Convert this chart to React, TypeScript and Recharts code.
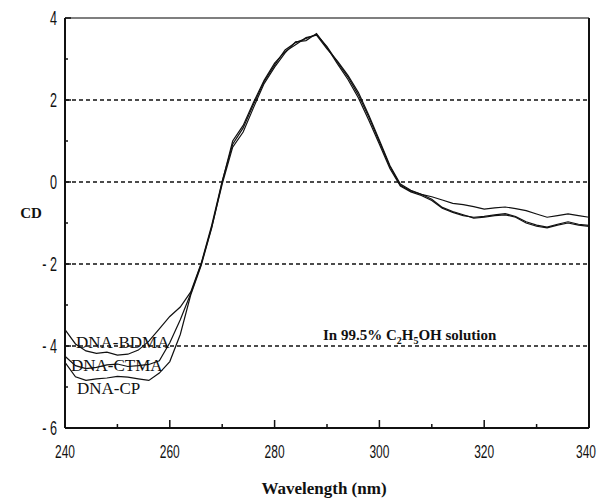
import React from 'react';
import { LineChart, Line, XAxis, YAxis, ReferenceLine } from 'recharts';

// wavelength (nm), 2 nm steps
const wavelengths = [
  240, 242, 244, 246, 248, 250, 252, 254, 256, 258, 260, 262, 264, 266, 268, 270, 272,
  274, 276, 278, 280, 282, 284, 286, 288, 290, 292, 294, 296, 298, 300, 302, 304, 306,
  308, 310, 312, 314, 316, 318, 320, 322, 324, 326, 328, 330, 332, 334, 336, 338, 340,
];

const bdma = [
  -3.6, -3.95, -4.12, -4.18, -4.15, -4.22, -4.2, -4.1, -3.88, -3.58, -3.28, -3.05, -2.68,
  -1.98, -1.05, 0.02, 0.92, 1.32, 1.9, 2.45, 2.85, 3.22, 3.4, 3.5, 3.6, 3.3, 2.92, 2.56,
  2.12, 1.58, 0.98, 0.38, -0.08, -0.22, -0.3, -0.36, -0.44, -0.52, -0.55, -0.6, -0.66,
  -0.63, -0.61, -0.65, -0.7, -0.78, -0.86, -0.82, -0.78, -0.82, -0.86,
];

const ctma = [
  -4.25, -4.48, -4.55, -4.52, -4.46, -4.44, -4.5, -4.48, -4.45, -4.36, -3.92, -3.36, -2.72,
  -2.0, -1.1, -0.05, 0.85, 1.22, 1.82, 2.4, 2.8, 3.15, 3.42, 3.45, 3.62, 3.28, 2.88, 2.5,
  2.05, 1.5, 0.92, 0.33, -0.1, -0.24, -0.33, -0.45, -0.64, -0.74, -0.82, -0.86, -0.84,
  -0.8, -0.77, -0.84, -0.97, -1.05, -1.1, -1.03, -0.97, -1.03, -1.06,
];

const cp = [
  -4.4, -4.75, -4.84, -4.8, -4.78, -4.74, -4.76, -4.8, -4.84, -4.66, -4.38, -3.72, -2.75,
  -2.03, -1.12, 0.0, 1.0, 1.38, 1.95, 2.48, 2.9, 3.18, 3.35, 3.52, 3.58, 3.25, 2.95, 2.6,
  2.18, 1.62, 1.02, 0.4, -0.05, -0.2, -0.3, -0.42, -0.62, -0.72, -0.8, -0.88, -0.86,
  -0.82, -0.8, -0.86, -1.0, -1.08, -1.12, -1.05, -1.0, -1.05, -1.08,
];

const xTicks = [240, 250, 260, 270, 280, 290, 300, 310, 320, 330, 340];
const xLabels = [240, 260, 280, 300, 320, 340];
const yTicks = [-6, -5, -4, -3, -2, -1, 0, 1, 2, 3, 4];
const yLabels = [-6, -4, -2, 0, 2, 4];
const gridValues = [2, 0, -2, -4];

const data = wavelengths.map((nm, i) => ({ nm, bdma: bdma[i], ctma: ctma[i], cp: cp[i] }));

const tickFont = "'Liberation Sans', Arial, sans-serif";
const serif = "'Liberation Serif', 'DejaVu Serif', serif";
// the original tick numbers are very condensed: squeeze them horizontally
const squeeze = 0.63;

const XTick = (props: any) => {
  const { x, y, payload } = props;
  const major = xLabels.includes(payload.value);
  // last label sits against the page edge: anchor it at its right end
  const last = payload.value === 340;
  return (
    <g>
      <line x1={x} y1={y} x2={x} y2={y - (major ? 8 : 4)} stroke="#111" strokeWidth={1.5} />
      {major && (
        <text transform={`translate(${last ? x + 7 : x},${y + 30}) scale(${squeeze},1)`}
          textAnchor={last ? 'end' : 'middle'} fontFamily={tickFont} fontSize={19} fill="#111">
          {payload.value}
        </text>
      )}
    </g>
  );
};

const YTick = (props: any) => {
  const { x, y, payload } = props;
  const major = yLabels.includes(payload.value);
  return (
    <g>
      <line x1={x} y1={y} x2={x + (major ? 6 : 3)} y2={y} stroke="#111" strokeWidth={1.5} />
      {major && (
        <text transform={`translate(${x - 8},${y + 7}) scale(${squeeze},1)`}
          textAnchor="end" fontFamily={tickFont} fontSize={20} fill="#111">
          {payload.value < 0 ? `- ${-payload.value}` : payload.value}
        </text>
      )}
    </g>
  );
};

const App = () => {
  return (
    <div style={{ position: 'absolute', left: 0, top: 0, width: 600, height: 498, background: '#fff' }}>
      <LineChart width={600} height={498} data={data}
        margin={{ top: 18, right: 11, bottom: 30, left: 0 }}>
        <XAxis dataKey="nm" type="number" domain={[240, 340]} ticks={xTicks} interval={0}
          tick={<XTick />} tickLine={false} tickSize={0} tickMargin={0} height={40}
          axisLine={{ stroke: '#111', strokeWidth: 2 }} />
        <YAxis type="number" domain={[-6, 4]} ticks={yTicks} interval={0}
          tick={<YTick />} tickLine={false} tickSize={0} tickMargin={0} width={65}
          axisLine={{ stroke: '#111', strokeWidth: 2 }} />
        {gridValues.map(v => (
          <ReferenceLine key={v} y={v} stroke="#111" strokeWidth={1.3} strokeDasharray="4 3" />
        ))}
        <ReferenceLine y={4} stroke="#555" strokeWidth={1.5} />
        <ReferenceLine x={340} stroke="#111" strokeWidth={2} />
        <Line type="linear" dataKey="bdma" stroke="#111" strokeWidth={1.2} dot={false} isAnimationActive={false} />
        <Line type="linear" dataKey="ctma" stroke="#111" strokeWidth={1.2} dot={false} isAnimationActive={false} />
        <Line type="linear" dataKey="cp" stroke="#111" strokeWidth={1.2} dot={false} isAnimationActive={false} />
      </LineChart>
      <svg width={600} height={498} style={{ position: 'absolute', left: 0, top: 0, pointerEvents: 'none' }}>
        <text x={31} y={218} textAnchor="middle" fontFamily={serif} fontSize={15} fontWeight={600} fill="#111">CD</text>
        <text x={324} y={494} textAnchor="middle" fontFamily={serif} fontSize={17} fontWeight={700} fill="#111">Wavelength (nm)</text>
        <text x={323} y={340} fontFamily={serif} fontSize={15} fontWeight={600} fill="#111">
          In 99.5% C<tspan fontSize={10} dy={4}>2</tspan><tspan dy={-4}>H</tspan>
          <tspan fontSize={10} dy={4}>5</tspan><tspan dy={-4}>OH solution</tspan>
        </text>
        <text x={76} y={348} fontFamily={serif} fontSize={17} fill="#111">DNA-BDMA</text>
        <text x={71} y={371} fontFamily={serif} fontSize={17} fill="#111">DNA-CTMA</text>
        <text x={77} y={394} fontFamily={serif} fontSize={17} fill="#111">DNA-CP</text>
      </svg>
    </div>
  );
};

export default App;
